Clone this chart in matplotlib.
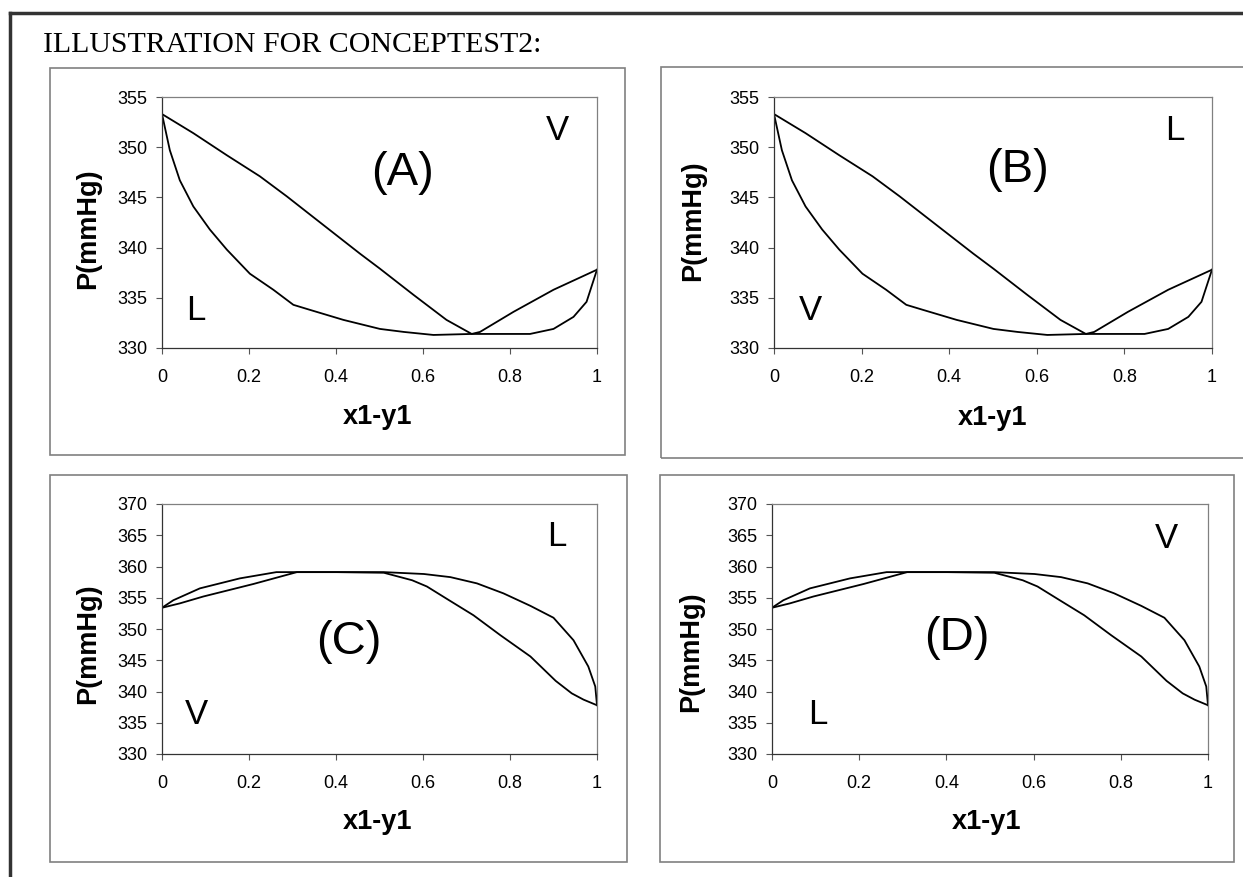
import matplotlib.pyplot as plt
from matplotlib.patches import Rectangle
from matplotlib.lines import Line2D

# curves for panels A and B (same data, labels swapped)
ab_upper_x = [0, 0.072, 0.149, 0.225, 0.287, 0.34, 0.455, 0.501, 0.578, 0.654, 0.712, 0.731, 0.808, 0.9, 1.0]
ab_upper_p = [353.3, 351.4, 349.2, 347.1, 345.1, 343.3, 339.4, 337.9, 335.3, 332.8, 331.4, 331.6, 333.6, 335.8, 337.8]
ab_lower_x = [0, 0.018, 0.041, 0.072, 0.11, 0.149, 0.202, 0.256, 0.302, 0.34, 0.417, 0.501, 0.556, 0.624,
              0.712, 0.846, 0.9, 0.946, 0.976, 1.0]
ab_lower_p = [353.3, 349.7, 346.7, 344.1, 341.8, 339.8, 337.4, 335.8, 334.3, 333.8, 332.8, 331.9, 331.6, 331.3,
              331.4, 331.4, 331.9, 333.1, 334.6, 337.8]

# curves for panels C and D
cd_upper_x = [0, 0.026, 0.087, 0.179, 0.263, 0.31, 0.402, 0.51, 0.602, 0.663, 0.724, 0.785, 0.847, 0.9,
              0.946, 0.98, 0.996, 1.0]
cd_upper_p = [353.4, 354.6, 356.5, 358.1, 359.1, 359.1, 359.1, 359.1, 358.8, 358.3, 357.3, 355.7, 353.7, 351.8,
              348.2, 344.0, 340.8, 337.8]
cd_lower_x = [0, 0.041, 0.095, 0.21, 0.31, 0.402, 0.51, 0.575, 0.609, 0.66, 0.716, 0.778, 0.847, 0.905,
              0.942, 0.969, 1.0]
cd_lower_p = [353.4, 354.1, 355.2, 357.2, 359.1, 359.1, 359.0, 357.8, 356.8, 354.6, 352.2, 349.0, 345.6, 341.7,
              339.7, 338.7, 337.8]

x_ticks = [0, 0.2, 0.4, 0.6, 0.8, 1]
x_ticklabels = ['0', '0.2', '0.4', '0.6', '0.8', '1']
ab_yticks = [330, 335, 340, 345, 350, 355]
cd_yticks = [330, 335, 340, 345, 350, 355, 360, 365, 370]

W, H = 1243, 877
fig = plt.figure(figsize=(W / 100, H / 100), dpi=100)
plt.rcParams['font.family'] = 'Liberation Sans'


def fx(x):
    return x / W


def fy(y):
    return 1 - y / H


def add_plot(l, t, r, b):
    return fig.add_axes([fx(l), fy(b), (r - l) / W, (b - t) / H])


# outer border (only left and top visible)
fig.add_artist(Line2D([fx(10), fx(10)], [fy(13), 0], color='#333333', lw=2.5))
fig.add_artist(Line2D([fx(10), 1], [fy(13), fy(13)], color='#333333', lw=2.5))

fig.text(fx(43), fy(52), 'ILLUSTRATION FOR CONCEPTEST2:', family='Liberation Serif',
         fontsize=21.5, va='baseline', ha='left')

panels = [
    # box, plot area, data, yticks, labels
    dict(box=(50, 68, 625, 455), plot=(162, 97, 597, 348), curves='ab', yticks=ab_yticks,
         tag=('(A)', 402, 173), t1=('V', 557, 130), t2=('L', 196, 310),
         ylab=(88, 229), xlab=(378, 417)),
    dict(box=(661, 67, 1250, 458), plot=(774, 97, 1212, 348), curves='ab', yticks=ab_yticks,
         tag=('(B)', 1017, 170), t1=('L', 1175, 130), t2=('V', 810, 310),
         ylab=(693, 221), xlab=(993, 418)),
    dict(box=(50, 475, 627, 862), plot=(162, 504, 597, 754), curves='cd', yticks=cd_yticks,
         tag=('(C)', 349, 642), t1=('L', 557, 537), t2=('V', 196, 715),
         ylab=(88, 644), xlab=(378, 822)),
    dict(box=(660, 475, 1234, 862), plot=(772, 504, 1208, 754), curves='cd', yticks=cd_yticks,
         tag=('(D)', 957, 638), t1=('V', 1166, 538), t2=('L', 818, 715),
         ylab=(691, 652), xlab=(987, 822)),
]

for p in panels:
    l, t, r, b = p['box']
    fig.add_artist(Rectangle((fx(l), fy(b)), (r - l) / W, (b - t) / H, transform=fig.transFigure,
                             fill=False, edgecolor='#808080', lw=1.2))
    ax = add_plot(*p['plot'])
    if p['curves'] == 'ab':
        ax.plot(ab_upper_x, ab_upper_p, color='black', lw=1.3)
        ax.plot(ab_lower_x, ab_lower_p, color='black', lw=1.3)
    else:
        ax.plot(cd_upper_x, cd_upper_p, color='black', lw=1.3)
        ax.plot(cd_lower_x, cd_lower_p, color='black', lw=1.3)
    yt = p['yticks']
    ax.set_xlim(0, 1)
    ax.set_ylim(yt[0], yt[-1])
    ax.set_xticks(x_ticks)
    ax.set_xticklabels(x_ticklabels)
    ax.set_yticks(yt)
    ax.tick_params(direction='out', length=4.5, width=0.8, color='#555555', labelsize=13)
    ax.tick_params(axis='x', pad=10.5)
    ax.tick_params(axis='y', pad=6)
    for s in ax.spines.values():
        s.set_color('#808080')
        s.set_linewidth(0.9)
    ax.spines['left'].set_color('#333333')
    ax.spines['bottom'].set_color('#333333')

    txt, x, y = p['tag']
    fig.text(fx(x), fy(y), txt, fontsize=34, ha='center', va='center')
    for key in ('t1', 't2'):
        txt, x, y = p[key]
        fig.text(fx(x), fy(y), txt, fontsize=25, ha='center', va='center')
    x, y = p['ylab']
    fig.text(fx(x), fy(y), 'P(mmHg)', fontsize=19.5, fontweight='bold', rotation=90, ha='center', va='center')
    x, y = p['xlab']
    fig.text(fx(x), fy(y), 'x1-y1', fontsize=19.5, fontweight='bold', ha='center', va='center')

plt.savefig('out.png', dpi=100)
